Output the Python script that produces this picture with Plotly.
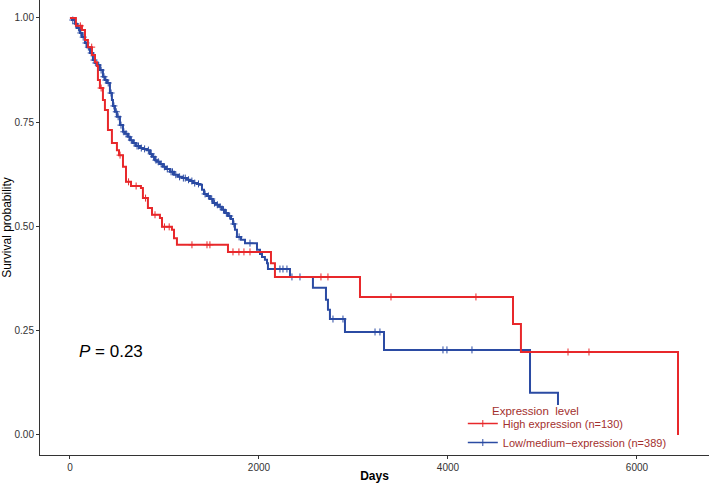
import numpy as np
import plotly.graph_objects as go

# ---------------- data ----------------
high_label = "High expression (n=130)"
low_label = "Low/medium\u2212expression (n=389)"
legend_title = "Expression  level"

high_time = [0, 63, 127, 159, 190, 233, 265, 286, 296, 317, 349, 370, 402, 444, 497, 519,
             561, 593, 646, 751, 772, 825, 868, 952, 974, 1079, 1101, 1132, 1672, 2127,
             2169, 3069, 4688, 4772, 6434]
high_surv = [1.000, 0.981, 0.971, 0.947, 0.930, 0.911, 0.894, 0.885, 0.851, 0.832, 0.803,
             0.779, 0.731, 0.700, 0.683, 0.671, 0.643, 0.607, 0.597, 0.592, 0.568, 0.544,
             0.528, 0.520, 0.499, 0.492, 0.472, 0.456, 0.439, 0.412, 0.379, 0.331, 0.266,
             0.199, 0.000]
high_censor = [110, 230, 330, 530, 620, 700, 800, 900, 1000, 1050, 1291, 1450, 1481,
               1725, 1788, 1841, 1905, 2656, 2730, 3397, 4296, 5270, 5492]

low_time = [0, 21, 53, 74, 106, 127, 159, 180, 212, 243, 265, 286, 317, 349, 370, 392, 423,
            444, 455, 476, 497, 529, 561, 582, 614, 635, 667, 698, 741, 772, 815, 847, 868,
            899, 921, 952, 984, 1016, 1058, 1101, 1143, 1185, 1238, 1270, 1302, 1344, 1376,
            1397, 1418, 1450, 1481, 1513, 1545, 1577, 1608, 1640, 1672, 1704, 1725, 1746,
            1767, 1810, 1852, 1979, 2011, 2032, 2063, 2085, 2095, 2328, 2571, 2709, 2730,
            2751, 2910, 3323, 4868, 5164]
low_surv = [1.000, 0.995, 0.986, 0.976, 0.964, 0.954, 0.940, 0.930, 0.916, 0.899, 0.892,
            0.887, 0.875, 0.859, 0.851, 0.844, 0.820, 0.803, 0.789, 0.775, 0.763, 0.743,
            0.727, 0.722, 0.715, 0.707, 0.700, 0.693, 0.688, 0.686, 0.683, 0.674, 0.667,
            0.659, 0.655, 0.650, 0.643, 0.638, 0.631, 0.624, 0.619, 0.616, 0.612, 0.609,
            0.604, 0.602, 0.600, 0.588, 0.578, 0.573, 0.566, 0.556, 0.552, 0.547, 0.540,
            0.532, 0.525, 0.518, 0.506, 0.492, 0.475, 0.468, 0.460, 0.444, 0.434, 0.427,
            0.420, 0.412, 0.398, 0.379, 0.353, 0.324, 0.300, 0.278, 0.247, 0.204, 0.101,
            0.072]
low_censor = [30, 60, 90, 115, 140, 170, 195, 225, 255, 275, 300, 330, 360, 380, 405, 435,
              465, 490, 510, 540, 570, 595, 625, 650, 680, 710, 725, 755, 790, 830, 860,
              885, 910, 935, 965, 1000, 1030, 1070, 1085, 1120, 1160, 1200, 1220, 1255, 1290,
              1320, 1360, 1430, 1465, 1500, 1530, 1560, 1590, 1625, 1655, 1690, 1735, 1790,
              1905, 2222, 2254, 2296, 2349, 2434, 2783, 2889, 3228, 3280, 3947, 3989, 4254]

x_ticks = [0, 2000, 4000, 6000]
y_ticks = [0.00, 0.25, 0.50, 0.75, 1.00]
y_tick_text = ["0.00", "0.25", "0.50", "0.75", "1.00"]
p_text = "<i>P</i> = 0.23"

RED = "#e8282b"
BLUE = "#2b4ba3"
LEGEND_COL = "#a3302e"


def surv_at(times, surv, t):
    idx = np.searchsorted(np.asarray(times), np.asarray(t), side="right") - 1
    return np.asarray(surv)[idx]


fig = go.Figure()

for times, surv, cens, col in [
    (low_time, low_surv, low_censor, BLUE),
    (high_time, high_surv, high_censor, RED),
]:
    fig.add_trace(go.Scatter(x=times, y=surv, mode="lines", line=dict(color=col, width=2, shape="hv"),
                             showlegend=False, hoverinfo="skip"))
    fig.add_trace(go.Scatter(x=cens, y=surv_at(times, surv, cens), mode="markers",
                             marker=dict(symbol="cross-thin", size=5, line=dict(color=col, width=1)),
                             showlegend=False, hoverinfo="skip"))

# legend entries (no drawn data)
for col, name in [(RED, high_label), (BLUE, low_label)]:
    fig.add_trace(go.Scatter(x=[None], y=[None], mode="lines+markers", name=name,
                             line=dict(color=col, width=1.5),
                             marker=dict(symbol="cross-thin", size=5, line=dict(color=col, width=1))))

fig.add_annotation(x=434, y=0.199, xref="x", yref="y", text=p_text, showarrow=False,
                   font=dict(family="Liberation Sans, Arial", size=17, color="black"))
fig.add_annotation(x=0.673, y=0.0967, xref="paper", yref="paper", xanchor="left", yanchor="middle",
                   text=legend_title, showarrow=False,
                   font=dict(family="Liberation Sans, Arial", size=11.5, color=LEGEND_COL))

fig.update_layout(
    width=709, height=483,
    margin=dict(l=40, r=0, t=0, b=28),
    plot_bgcolor="white", paper_bgcolor="white",
    font=dict(family="Liberation Sans, Arial", color="#333333"),
    showlegend=True,
    legend=dict(
        font=dict(size=11, color=LEGEND_COL),
        x=0.632, y=0.101, xanchor="left", yanchor="top",
        bgcolor="rgba(0,0,0,0)", itemwidth=30, tracegroupgap=0,
    ),
)

fig.update_xaxes(
    range=[-317, 6762], tickvals=x_ticks, ticks="outside", ticklen=3, tickcolor="#333333",
    showline=True, linecolor="#333333", linewidth=1, showgrid=False, zeroline=False,
    tickfont=dict(size=10, color="#333333"),
    title=dict(text="<b>Days</b>", font=dict(size=12, color="black"), standoff=4),
    automargin=False,
)
fig.update_yaxes(
    range=[-0.048, 1.043], tickvals=y_ticks, ticktext=y_tick_text, ticks="outside", ticklen=3,
    tickcolor="#333333", showline=True, linecolor="#333333", linewidth=1, showgrid=False,
    zeroline=False, tickfont=dict(size=10, color="#333333"),
    title=dict(text="Survival probability", font=dict(size=12, color="black"), standoff=3),
    automargin=False,
)

fig.write_html("out.html", config={"displayModeBar": False},
               post_script="document.body.style.margin='0px';document.body.style.padding='0px';")
